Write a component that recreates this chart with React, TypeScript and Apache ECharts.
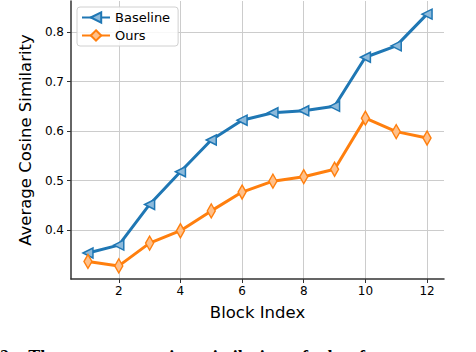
import React, { useEffect, useRef } from "react";
import * as echarts from "echarts";

const blocks = [1, 2, 3, 4, 5, 6, 7, 8, 9, 10, 11, 12];
const baseline = [0.354, 0.370, 0.452, 0.518, 0.582, 0.622, 0.637, 0.641, 0.650, 0.749, 0.772, 0.836];
const ours = [0.337, 0.328, 0.374, 0.399, 0.439, 0.477, 0.499, 0.508, 0.523, 0.626, 0.599, 0.586];
const xTicks = [2, 4, 6, 8, 10, 12];
const yTicks = [0.4, 0.5, 0.6, 0.7, 0.8];

const FONT = "DejaVu Sans";

export default function App() {
  const ref = useRef<HTMLDivElement>(null);
  useEffect(() => {
    if (!ref.current) return;
    const chart = echarts.init(ref.current, null, { renderer: "svg" });
    chart.setOption({
      animation: false,
      backgroundColor: "#ffffff",
      grid: { left: 71, right: 32, top: 1, bottom: 73 },
      legend: {
        orient: "vertical",
        left: 77,
        top: 7,
        itemWidth: 28,
        itemHeight: 13,
        itemGap: 5,
        padding: [4, 8, 4, 4],
        backgroundColor: "rgba(255,255,255,0.85)",
        borderColor: "#d0d0d0",
        borderWidth: 1,
        borderRadius: 3,
        textStyle: { fontFamily: FONT, fontSize: 13, color: "#000" },
        data: ["Baseline", "Ours"],
      },
      xAxis: {
        type: "value",
        min: 0.45,
        max: 12.55,
        name: "Block Index",
        nameLocation: "middle",
        nameGap: 25,
        nameTextStyle: { fontFamily: FONT, fontSize: 16.5, color: "#000" },
        axisLine: { show: true, onZero: false, lineStyle: { color: "#333", width: 1.5 } },
        axisTick: { show: true, length: 4, customValues: xTicks, lineStyle: { color: "#333" } },
        axisLabel: { customValues: xTicks, fontFamily: FONT, fontSize: 12, color: "#000", margin: 6 },
        splitLine: { show: true, lineStyle: { color: "#cccccc", width: 1 } },
      },
      yAxis: {
        type: "value",
        min: 0.3016,
        max: 0.8625,
        name: "Average Cosine Similarity",
        nameLocation: "middle",
        nameGap: 32,
        nameTextStyle: { fontFamily: FONT, fontSize: 16.5, color: "#000" },
        axisLine: { show: true, onZero: false, lineStyle: { color: "#333", width: 1.5 } },
        axisTick: { show: true, length: 4, customValues: yTicks, lineStyle: { color: "#333" } },
        axisLabel: {
          customValues: yTicks,
          fontFamily: FONT,
          fontSize: 12,
          color: "#000",
          margin: 7,
          formatter: (v: number) => v.toFixed(1),
        },
        splitLine: { show: true, lineStyle: { color: "#cccccc", width: 1 } },
      },
      series: [
        {
          name: "Baseline",
          type: "line",
          data: blocks.map((b, i) => [b, baseline[i]]),
          lineStyle: { color: "#1f77b4", width: 3 },
          symbol: "triangle",
          symbolRotate: 90,
          symbolSize: 10,
          showAllSymbol: true,
          itemStyle: { color: "#8dbadb", borderColor: "#1f77b4", borderWidth: 1.5 },
          z: 3,
        },
        {
          name: "Ours",
          type: "line",
          data: blocks.map((b, i) => [b, ours[i]]),
          lineStyle: { color: "#ff7f0e", width: 3 },
          symbol: "diamond",
          symbolSize: [8, 14],
          showAllSymbol: true,
          itemStyle: { color: "#ffc08a", borderColor: "#ff7f0e", borderWidth: 1.5 },
          z: 3,
        },
      ],
      graphic: [
        {
          type: "text",
          left: 0,
          top: 348,
          style: {
            text: "2:   The   average   cosine   similarity   of   the   features   at   each   block",
            fontFamily: "Liberation Serif",
            fontWeight: "bold",
            fontSize: 18,
            fill: "#000",
          },
        },
      ],
    });
    return () => chart.dispose();
  }, []);
  return <div ref={ref} style={{ width: 476, height: 352, position: "absolute", left: 0, top: 0 }} />;
}
